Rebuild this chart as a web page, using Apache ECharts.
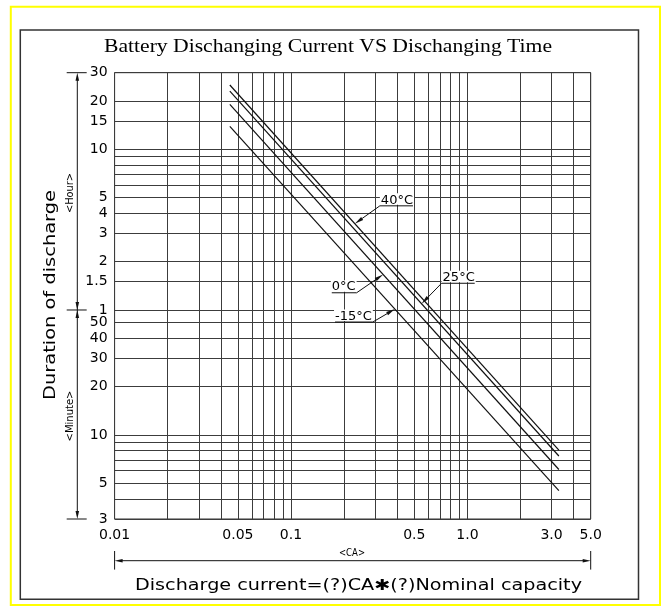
<!DOCTYPE html>
<html>
<head>
<meta charset="utf-8">
<script src="https://cdn.jsdelivr.net/npm/echarts@6/dist/echarts.min.js"></script>
<style>html,body{margin:0;padding:0;background:#fff}#c{width:661px;height:606px}</style>
</head>
<body>
<div id="c"></div>
<script>
// ---------------- DATA ----------------
const seriesNames = ['40°C', '25°C', '0°C', '-15°C'];
const currentCA = [0.045, 3.3];            // discharge current (CA) at line ends
const time40 = [1509, 8.05];               // minutes
const time25 = [1384, 7.4];
const time0 = [1144, 6.1];
const timeM15 = [835, 4.5];

const xGridValues = [0.01,0.02,0.03,0.04,0.05,0.06,0.07,0.08,0.09,0.1,0.2,0.3,0.4,0.5,0.6,0.7,0.8,0.9,1,2,3,4,5];
const xLabelValues = [0.01, 0.05, 0.1, 0.5, 1, 3, 5];
const xLabelTexts = ['0.01', '0.05', '0.1', '0.5', '1.0', '3.0', '5.0'];
const yHourGrid = [30,20,15,10,9,8,7,6,5,4,3,2,1.5,1];
const yMinuteGrid = [50,40,30,20,10,9,8,7,6,5,4,3];
const yHourLabels = ['30','20','15','10','5','4','3','2','1.5','1'];
const yMinuteLabels = ['50','40','30','20','10','5','3'];

// annotation anchors (data space): arrow tip current, label anchor (current, minutes)
const annoTipX = [0.23, 0.55, 0.333, 0.388];
const annoEndX = [0.319, 0.714, 0.2355, 0.291];
const annoEndY = [267, 88, 76.8, 50.5];
const annoSide = [1, 1, -1, -1];

// ---------------- CHART ----------------
const chart = echarts.init(document.getElementById('c'));
const SANS = '"DejaVu Sans ExtraLight", "DejaVu Sans", sans-serif';
const SERIF = '"Liberation Serif", "Times New Roman", serif';
const INK = '#000';
const xMin = 0.01, xMax = 5, yMin = 3, yMax = 1800;

const seriesTimes = [time40, time25, time0, timeM15];
const yGridValues = yHourGrid.map(h => h * 60).concat(yMinuteGrid);
const yLabelValues = yHourLabels.map(h => parseFloat(h) * 60).concat(yMinuteLabels.map(m => parseFloat(m)));
const yLabelTexts = yHourLabels.concat(yMinuteLabels);

function nearestLabel(v, vals, texts) {
  let best = 0, bd = Infinity;
  vals.forEach((u, i) => { const d = Math.abs(Math.log(u) - Math.log(v)); if (d < bd) { bd = d; best = i; } });
  return texts[best];
}
function lineY(i, x) {
  const t = seriesTimes[i];
  const lx0 = Math.log10(currentCA[0]), lx1 = Math.log10(currentCA[1]);
  const ly0 = Math.log10(t[0]), ly1 = Math.log10(t[1]);
  return Math.pow(10, ly0 + (Math.log10(x) - lx0) * (ly1 - ly0) / (lx1 - lx0));
}
const mctx = document.createElement('canvas').getContext('2d');
function measure(text, font) { mctx.font = font; return mctx.measureText(text).width; }

const ANNO_FONT = '13px ' + SANS;
const annoData = seriesNames.map((n, i) => [annoTipX[i], lineY(i, annoTipX[i]), annoEndX[i], annoEndY[i]]);

function arrowPts(tip, dir, L, W) {
  const bx = tip[0] - dir[0] * L, by = tip[1] - dir[1] * L;
  return [[tip[0], tip[1]], [bx - dir[1] * W, by + dir[0] * W], [bx + dir[1] * W, by - dir[0] * W]];
}

const lineSeries = seriesNames.map((name, i) => ({
  name: name,
  type: 'line',
  data: currentCA.map((x, k) => [x, seriesTimes[i][k]]),
  symbol: 'none',
  lineStyle: { color: '#111', width: 1.2 },
  z: 5
}));

const option = {
  animation: false,
  backgroundColor: '#fff',
  grid: { left: 114.6, right: 70.3, top: 72.7, bottom: 87, show: true, borderColor: '#333', borderWidth: 1 },
  xAxis: {
    type: 'log', logBase: 10, min: xMin, max: xMax,
    axisLine: { show: false },
    axisTick: { show: false, customValues: xGridValues },
    splitLine: { show: true, lineStyle: { color: '#3c3c3c', width: 1 } },
    axisLabel: {
      customValues: xLabelValues,
      formatter: v => nearestLabel(v, xLabelValues, xLabelTexts),
      color: INK, fontFamily: SANS, fontSize: 14, margin: 9
    }
  },
  yAxis: {
    type: 'log', logBase: 10, min: yMin, max: yMax,
    axisLine: { show: false },
    axisTick: { show: false, customValues: yGridValues },
    splitLine: { show: true, lineStyle: { color: '#3c3c3c', width: 1 } },
    axisLabel: {
      customValues: yLabelValues,
      formatter: v => nearestLabel(v, yLabelValues, yLabelTexts),
      color: INK, fontFamily: SANS, fontSize: 14, margin: 7
    }
  },
  series: lineSeries.concat([{
    type: 'custom',
    name: 'labels',
    coordinateSystem: 'cartesian2d',
    clip: false,
    z: 6,
    data: annoData,
    renderItem: function (params, api) {
      const i = params.dataIndex;
      const tip = api.coord([api.value(0), api.value(1)]);
      const end = api.coord([api.value(2), api.value(3)]);
      const side = annoSide[i];
      const txt = seriesNames[i];
      const w = measure(txt, ANNO_FONT);
      const dx = tip[0] - end[0], dy = tip[1] - end[1];
      const len = Math.hypot(dx, dy);
      const dir = [dx / len, dy / len];
      const L = 9, W = 1.8;
      const base = [tip[0] - dir[0] * L, tip[1] - dir[1] * L];
      const ulEnd = end[0] + side * (w + 1);
      const tx = side > 0 ? end[0] + 1 : end[0] - w - 1;
      return {
        type: 'group',
        children: [
          { type: 'rect', shape: { x: tx - 1, y: end[1] - 12.5, width: w + 2, height: 11.5 }, style: { fill: '#fff' } },
          { type: 'line', shape: { x1: end[0], y1: end[1], x2: base[0], y2: base[1] }, style: { stroke: '#111', lineWidth: 1 } },
          { type: 'polygon', shape: { points: arrowPts(tip, dir, L, W) }, style: { fill: '#111' } },
          { type: 'line', shape: { x1: end[0], y1: end[1], x2: ulEnd, y2: end[1] }, style: { stroke: '#111', lineWidth: 1 } },
          { type: 'text', x: tx, y: end[1] - 5.7, style: { text: txt, font: ANNO_FONT, fill: INK, align: 'left', verticalAlign: 'middle' } }
        ]
      };
    }
  }])
};
chart.setOption(option);

// ---------------- DECORATIONS (frame, title, dimension lines) ----------------
const g = [];
function ln(x1, y1, x2, y2, w, c) { g.push({ type: 'line', shape: { x1, y1, x2, y2 }, style: { stroke: c || '#111', lineWidth: w || 1 }, silent: true }); }
function arr(tip, dir) { g.push({ type: 'polygon', shape: { points: arrowPts(tip, dir, 8, 1.8) }, style: { fill: '#111' }, silent: true }); }
function txt(text, x, y, font, targetW, rot) {
  const s = targetW ? targetW / measure(text, font) : 1;
  g.push({ type: 'text', x: x, y: y, rotation: rot || 0, scaleX: s, silent: true,
    style: { text: text, font: font, fill: INK, align: 'center', verticalAlign: 'middle' } });
}

// outer borders
g.push({ type: 'rect', shape: { x: 10.8, y: 6.7, width: 649.2, height: 598.3 }, style: { fill: 'none', stroke: '#ffff00', lineWidth: 2 }, silent: true });
g.push({ type: 'rect', shape: { x: 20.3, y: 30, width: 618.2, height: 569.3 }, style: { fill: 'none', stroke: '#333', lineWidth: 1.5 }, silent: true });

// title
txt('Battery Dischanging Current VS Dischanging Time', 328, 47.5, '18px ' + SERIF, 448);

// y-axis dimension
const yTop = chart.convertToPixel({ gridIndex: 0 }, [xMin, yMax])[1];
const yMid = chart.convertToPixel({ gridIndex: 0 }, [xMin, 60])[1];
const yBot = chart.convertToPixel({ gridIndex: 0 }, [xMin, yMin])[1];
const dimX = 77.3;
[yTop, yMid, yBot].forEach(y => ln(66.7, y, 86.7, y, 1));
ln(dimX, yTop + 6, dimX, yBot - 6, 1);
arr([dimX, yTop], [0, -1]);
arr([dimX, yMid], [0, 1]);
arr([dimX, yMid], [0, -1]);
arr([dimX, yBot], [0, 1]);
txt('<Hour>', 70, 193, '10px ' + SANS, 40, Math.PI / 2);
txt('<Minute>', 70, 416, '10px ' + SANS, 51, Math.PI / 2);
txt('Duration of discharge', 51.5, 295, '15px ' + SANS, 210, Math.PI / 2);

// x-axis dimension
const xL = chart.convertToPixel({ gridIndex: 0 }, [xMin, yMin])[0];
const xR = chart.convertToPixel({ gridIndex: 0 }, [xMax, yMin])[0];
const dimY = 560.7;
ln(xL, 551, xL, 569.6, 1);
ln(xR, 551, xR, 569.6, 1);
ln(xL + 6, dimY, xR - 6, dimY, 1);
arr([xL, dimY], [-1, 0]);
arr([xR, dimY], [1, 0]);
txt('<CA>', 352, 553, '10px ' + SANS, 26);
txt('Discharge current=(?)CA✱(?)Nominal capacity', 358.5, 585.7, '15px ' + SANS, 447);

chart.setOption({ graphic: { elements: g } });
</script>
</body>
</html>
